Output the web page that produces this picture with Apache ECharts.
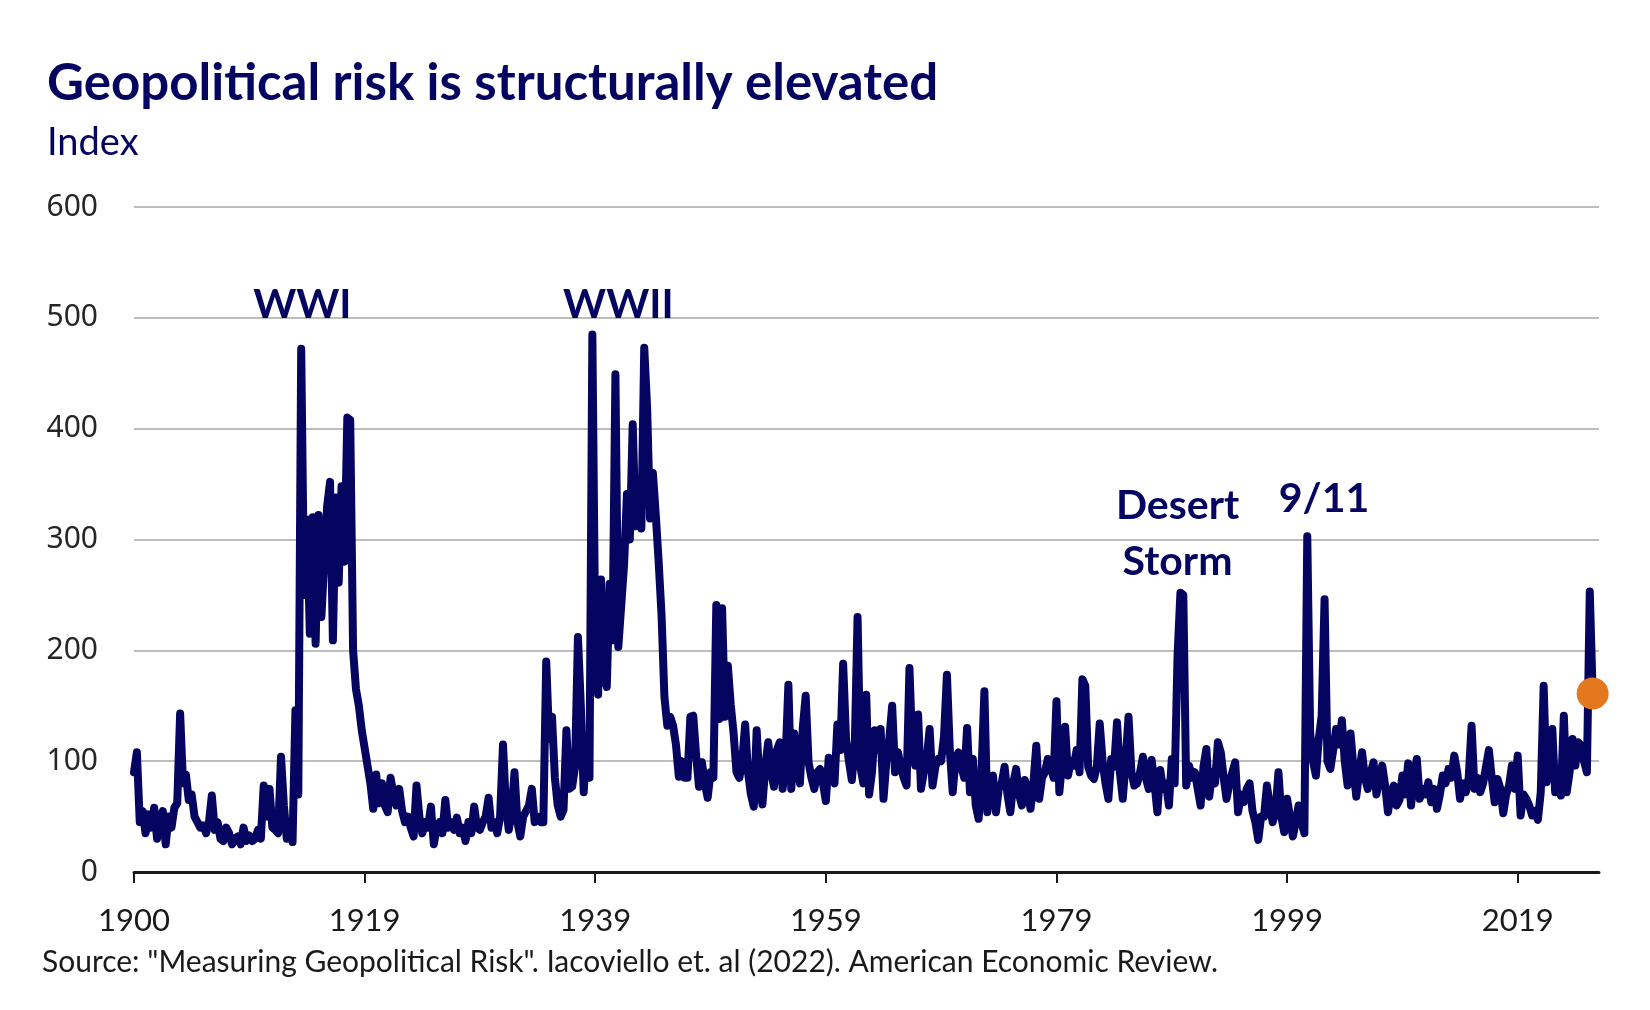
<!DOCTYPE html>
<html>
<head>
<meta charset="utf-8">
<script src="https://cdn.jsdelivr.net/npm/echarts@6/dist/echarts.min.js"></script>
<style>
  html, body { margin: 0; padding: 0; background: #fff; }
  #chart { width: 1650px; height: 1010px; }
</style>
</head>
<body>
<div id="chart"></div>
<script>
// geopolitical risk index, quarterly readings from 1900 Q1
const startYear = 1900;
const stepYears = 0.25;

const gpr1900s = [
  90, 108, 45, 55,   35, 52, 40, 58,   30, 45, 55, 25,   50, 40, 58, 62,   143, 80, 88, 65,
  70, 50, 45, 40,    42, 35, 45, 69,   38, 45, 30, 28,   40, 35, 25, 30,   32, 25, 40, 28
];
const gpr1910s = [
  33, 28, 30, 38,    30, 78, 50, 75,   40, 38, 35, 104,  60, 30, 45, 27,   146, 70, 472, 250,
  318, 215, 320, 206, 322, 230, 280, 330, 352, 209, 338, 261, 348, 280, 410, 408, 200, 165, 150, 128
];
const gpr1920s = [
  112, 96, 80, 57,   88, 62, 80, 60,   54, 85, 70, 60,   75, 55, 45, 50,   40, 32, 78, 50,
  35, 45, 40, 59,    25, 40, 45, 35,   65, 40, 45, 38,   49, 35, 40, 28,   45, 35, 59, 40
];
const gpr1930s = [
  38, 45, 50, 67,    40, 45, 35, 50,   115, 60, 38, 55,  90, 45, 32, 50,   55, 60, 75, 45,
  50, 45, 45, 190,   120, 140, 85, 60, 50, 56, 128, 75, 77, 95, 212, 150, 72, 120, 85, 485
];
const gpr1940s = [
  210, 160, 264, 177, 167, 260, 209, 449, 203, 240, 277, 341, 300, 404, 312, 330, 310, 473, 419, 319,
  360, 322, 280, 232, 158, 132, 140, 132, 115, 86, 100, 85, 85, 140, 141, 105, 77, 99, 80, 67
];
const gpr1950s = [
  90, 85, 241, 138,  238, 140, 186, 151, 125, 90, 85, 100, 133, 90, 70, 59,  128, 80, 61, 95,
  117, 90, 77, 110,  117, 75, 100, 169, 75, 125, 95, 80,  130, 159, 99, 85, 75, 90, 93, 80
];
const gpr1960s = [
  64, 103, 90, 80,   133, 110, 188, 120, 100, 83, 110, 230, 95, 80, 160, 70, 90, 128, 110, 129,
  66, 100, 120, 150, 90, 108, 95, 85,  78, 184, 110, 96, 142, 75, 90, 102,  129, 78, 95, 102
];
const gpr1970s = [
  100, 123, 178, 110, 72, 102, 108, 95, 85, 130, 72, 102, 60, 48, 90, 163,  54, 80, 87, 54,
  75, 80, 95, 70,    54, 80, 93, 70,   60, 83, 75, 57,   80, 114, 66, 85,  90, 102, 95, 85
];
const gpr1980s = [
  154, 72, 100, 131, 87, 100, 96, 110, 90, 174, 168, 95, 87, 84, 95, 134,  100, 80, 66, 102,
  95, 135, 90, 66,   100, 140, 90, 78, 80, 90, 104, 85,  75, 101, 80, 54,  92, 75, 80, 60
];
const gpr1990s = [
  102, 80, 195, 252, 250, 78, 96, 85,  90, 75, 60, 95,   111, 68, 90, 80,  117, 108, 85, 66,
  80, 90, 99, 54,    70, 63, 75, 80,   55, 45, 29, 50,   50, 78, 60, 45,   55, 90, 50, 36
];
const gpr2000s = [
  66, 50, 32, 45,    60, 45, 35, 303,  126, 100, 87, 120, 141, 246, 100, 93, 110, 129, 115, 137,
  100, 78, 125, 95,  68, 90, 108, 85,  75, 90, 99, 70,   85, 96, 78, 54,   70, 78, 60, 65
];
const gpr2010s = [
  87, 70, 98, 60,    85, 102, 66, 75,  70, 81, 63, 75,   57, 70, 87, 80,   93, 85, 105, 90,
  66, 80, 72, 85,    132, 75, 85, 72,  80, 95, 110, 85,  63, 84, 75, 53,   70, 78, 96, 75
];
const gpr2020s = [
  105, 51, 70, 66,   60, 51, 55, 47,   72, 168, 81, 95,  129, 72, 85, 69,  141, 72, 90, 120,
  96, 117, 114, 100, 90, 253, 161
];

const xTickValues = [1900, 1920, 1940, 1960, 1980, 2000, 2020];
const xTickLabels = ['1900', '1919', '1939', '1959', '1979', '1999', '2019'];

const gprValues = [].concat(gpr1900s, gpr1910s, gpr1920s, gpr1930s, gpr1940s,
  gpr1950s, gpr1960s, gpr1970s, gpr1980s, gpr1990s, gpr2000s, gpr2010s, gpr2020s);
const gprSeries = gprValues.map(function (v, i) { return [startYear + i * stepYears, v]; });
const lastPoint = gprSeries[gprSeries.length - 1];

const navy = '#050561';
const txtFont = "Lato, 'Open Sans', sans-serif";

let chart = echarts.init(document.getElementById('chart'), null, { renderer: 'canvas' });

const option = {
  backgroundColor: '#fff',
  animation: false,
  grid: { left: 134, right: 51, top: 207, bottom: 138 },
  xAxis: {
    type: 'value',
    min: 1900,
    max: 2027.05,
    interval: 20,
    splitLine: { show: false },
    axisLine: { lineStyle: { color: '#1a1a1a', width: 3 } },
    axisTick: { customValues: xTickValues, length: 11, lineStyle: { color: '#1a1a1a', width: 2 } },
    axisLabel: {
      customValues: xTickValues,
      formatter: function (v) {
        let idx = xTickValues.indexOf(Math.round(v));
        return idx >= 0 ? xTickLabels[idx] : '';
      },
      fontFamily: txtFont,
      fontSize: 31,
      color: '#1a1a1a',
      margin: 33
    }
  },
  yAxis: {
    type: 'value',
    min: 0,
    max: 600,
    interval: 100,
    axisLine: { show: false },
    axisTick: { show: false },
    splitLine: { lineStyle: { color: '#bdbdbd', width: 2 } },
    axisLabel: {
      fontFamily: "'Noto Sans', sans-serif",
      fontSize: 30,
      color: '#262626',
      margin: 36
    }
  },
  series: [
    {
      name: 'GPR',
      type: 'line',
      data: gprSeries,
      showSymbol: false,
      symbol: 'none',
      lineStyle: { color: navy, width: 8, cap: 'round', join: 'round' },
      z: 3,
      markPoint: {
        symbol: 'circle',
        symbolSize: 0,
        label: {
          show: true,
          position: 'inside',
          formatter: '{b}',
          fontFamily: txtFont,
          fontWeight: 'bold',
          fontSize: 41,
          lineHeight: 56,
          color: navy
        },
        data: [
          { name: 'WWI', coord: [1914.6, 512] },
          { name: 'WWII', coord: [1942.0, 512] },
          { name: 'Desert\nStorm', coord: [1990.5, 305] },
          { name: '9/11', coord: [2003.2, 337] }
        ]
      }
    },
    {
      name: 'latest',
      type: 'scatter',
      data: [lastPoint],
      symbolSize: 32,
      itemStyle: { color: '#E4781E', opacity: 1 },
      z: 4
    }
  ],
  graphic: [
    {
      type: 'text', left: 47, top: 58,
      style: { text: 'Geopolitical risk is structurally elevated', font: "bold 51px Lato, sans-serif", fill: navy }
    },
    {
      type: 'text', left: 47, top: 124,
      style: { text: 'Index', font: "38px Lato, sans-serif", fill: navy }
    },
    {
      type: 'text', left: 42, top: 947,
      style: { text: 'Source: "Measuring Geopolitical Risk". Iacoviello et. al (2022). American Economic Review.', font: "30px Lato, sans-serif", fill: '#1a1a1a' }
    }
  ]
};

chart.setOption(option);
</script>
</body>
</html>
